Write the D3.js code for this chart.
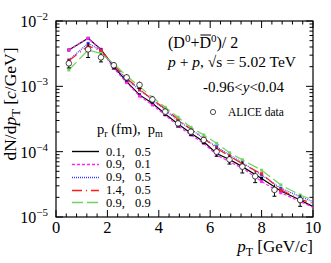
<!DOCTYPE html>
<html>
<head>
<meta charset="utf-8">
<style>
    body { margin: 0; background: #fff; }
    svg { font-family: 'Liberation Serif', 'DejaVu Serif', serif; }
</style>
</head>
<body>
<svg width="331" height="263"></svg>
<script src="https://d3js.org/d3.v7.min.js"></script>
<script>
    // ALICE data points
    let dataX = [0.5, 1.25, 1.75, 2.25, 2.75, 3.25, 3.75, 4.25, 4.75, 5.25, 5.75, 6.25, 6.75, 7.25, 7.75, 8.5, 9.5]
    let dataY = [2.25e-3, 3.68e-3, 2.78e-3, 2.1e-3, 1.37e-3, 1.05e-3, 6.3e-4, 4.1e-4, 2.71e-4, 2.02e-4, 1.51e-4, 1.0e-4, 7.6e-5, 5.9e-5, 4.2e-5, 2.6e-5, 1.82e-5]
    let dataErr = [0.15, 0.25, 0.15, 0.12, 0.12, 0.12, 0.12, 0.12, 0.12, 0.12, 0.12, 0.15, 0.15, 0.2, 0.2, 0.2, 0.2]

    // model curves
    let modelX = [0.5, 1.25, 1.75, 2.25, 2.75, 3.25, 3.75, 4.25, 4.75, 5.25, 5.75, 6.25, 6.75, 7.25, 8.0, 8.75, 9.5, 10]
    let blackY = [3.6e-3, 5.43e-3, 3.68e-3, 2.0e-3, 1.18e-3, 7.4e-4, 5.5e-4, 3.77e-4, 2.65e-4, 1.91e-4, 1.42e-4, 9.4e-5, 7.6e-5, 5.9e-5, 3.9e-5, 2.5e-5, 1.82e-5, 1.44e-5]
    let magentaY = [3.6e-3, 5.43e-3, 3.6e-3, 1.89e-3, 1.14e-3, 7.1e-4, 5.2e-4, 3.64e-4, 2.47e-4, 1.8e-4, 1.34e-4, 8.9e-5, 7.0e-5, 5.6e-5, 3.5e-5, 2.35e-5, 1.72e-5, 1.41e-5]
    let blueY = [2.53e-3, 4.55e-3, 3.51e-3, 2.05e-3, 1.28e-3, 8.8e-4, 6.2e-4, 4.34e-4, 2.98e-4, 2.2e-4, 1.6e-4, 1.19e-4, 8.9e-5, 6.8e-5, 4.4e-5, 2.75e-5, 2.05e-5, 1.72e-5]
    let redY = [2.47e-3, 4.14e-3, 3.51e-3, 2.12e-3, 1.33e-3, 9.0e-4, 6.3e-4, 4.55e-4, 3.13e-4, 2.2e-4, 1.6e-4, 1.12e-4, 8.6e-5, 6.5e-5, 4.6e-5, 2.6e-5, 1.86e-5, 1.62e-5]
    let greenY = [1.78e-3, 3.6e-3, 3.2e-3, 2.2e-3, 1.44e-3, 9.9e-4, 6.8e-4, 4.77e-4, 3.36e-4, 2.36e-4, 1.8e-4, 1.34e-4, 9.6e-5, 7.5e-5, 5.2e-5, 3.1e-5, 2.17e-5, 1.82e-5]

    let legendA = ["0.1,", "0.9,", "0.9,", "1.4,", "0.9,"]
    let legendB = ["0.5", "0.1", "0.5", "0.5", "0.9"]

    let xTicks = [0, 2, 4, 6, 8, 10]
    let yTicks = [1e-5, 1e-4, 1e-3, 1e-2]

    let models = [
        { y: blackY, color: "#000", dash: null, w: 1.2 },
        { y: magentaY, color: "#ff22ff", dash: "3,2", w: 1.2 },
        { y: blueY, color: "#3a3aff", dash: "1,1", w: 1.2 },
        { y: redY, color: "#ff1a1a", dash: "10,4,1,4", w: 1.2 },
        { y: greenY, color: "#6fd45f", dash: "11,4", w: 1.2 }
    ]

    let svg = d3.select("svg")
    let mLeft = 56, mRight = 313, mTop = 21, mBottom = 217

    let x = d3.scaleLinear().domain([0, 10]).range([mLeft, mRight])
    let y = d3.scaleLog().domain([1e-5, 1e-2]).range([mBottom, mTop])

    // ticks, all four sides pointing in
    let minorX = d3.range(0, 10.001, 0.4)
    let minorY = []
    for (let e = -5; e < -2; e++) {
        for (let m = 2; m <= 9; m++) minorY.push(m * Math.pow(10, e))
    }

    let tk = svg.append("g").attr("stroke", "#000").attr("stroke-width", 1)
    minorX.forEach(v => {
        let big = xTicks.some(t => Math.abs(t - v) < 1e-6)
        let len = big ? 7 : 3.5
        tk.append("line").attr("x1", x(v)).attr("x2", x(v)).attr("y1", mBottom).attr("y2", mBottom - len)
        tk.append("line").attr("x1", x(v)).attr("x2", x(v)).attr("y1", mTop).attr("y2", mTop + len)
    })
    yTicks.concat(minorY).forEach(v => {
        let len = yTicks.includes(v) ? 7 : 3.5
        tk.append("line").attr("y1", y(v)).attr("y2", y(v)).attr("x1", mLeft).attr("x2", mLeft + len)
        tk.append("line").attr("y1", y(v)).attr("y2", y(v)).attr("x1", mRight).attr("x2", mRight - len)
    })

    svg.append("rect")
        .attr("x", mLeft).attr("y", mTop)
        .attr("width", mRight - mLeft).attr("height", mBottom - mTop)
        .attr("fill", "none").attr("stroke", "#000").attr("stroke-width", 1.2)

    // tick labels
    svg.append("g").selectAll("text")
        .data(xTicks)
        .join("text")
        .attr("x", d => x(d))
        .attr("y", 233)
        .attr("text-anchor", "middle")
        .style("font-size", "16.5px")
        .text(d => d)

    let yl = svg.append("g").selectAll("text")
        .data(yTicks)
        .join("text")
        .attr("x", 48)
        .attr("y", d => y(d) + 6)
        .attr("text-anchor", "end")
        .style("font-size", "16px")
    yl.append("tspan").text("10")
    yl.append("tspan").attr("dy", -7).style("font-size", "11px").text(d => "\u2212" + Math.round(-Math.log10(d)))

    // axis titles
    let xt = svg.append("text").attr("x", mRight).attr("y", 252).attr("text-anchor", "end").style("font-size", "17px")
    xt.append("tspan").style("font-style", "italic").text("p")
    xt.append("tspan").attr("dy", 4).style("font-size", "12px").text("T")
    xt.append("tspan").attr("dy", -4).text(" [GeV/")
    xt.append("tspan").style("font-style", "italic").text("c")
    xt.append("tspan").text("]")

    let yt = svg.append("text")
        .attr("transform", "translate(16,104) rotate(-90)")
        .attr("text-anchor", "middle")
        .style("font-size", "17.5px")
    yt.append("tspan").text("dN/d")
    yt.append("tspan").style("font-style", "italic").text("p")
    yt.append("tspan").attr("dy", 4).style("font-size", "12.5px").text("T")
    yt.append("tspan").attr("dy", -4).text(" [")
    yt.append("tspan").style("font-style", "italic").text("c")
    yt.append("tspan").text("/GeV]")

    // model lines
    let line = d3.line().x(d => x(d[0])).y(d => y(d[1]))
    models.forEach(m => {
        let pts = modelX.map((v, i) => [v, m.y[i]])
        svg.append("path")
            .attr("d", line(pts))
            .attr("fill", "none")
            .attr("stroke", m.color)
            .attr("stroke-width", m.w)
            .attr("stroke-dasharray", m.dash)
        svg.append("g").selectAll("rect")
            .data(pts.slice(0, -1))
            .join("rect")
            .attr("x", d => x(d[0]) - 1.5)
            .attr("y", d => y(d[1]) - 1.5)
            .attr("width", 3).attr("height", 3)
            .attr("fill", m.color)
    })

    // data with error bars
    let pts = dataX.map((v, i) => ({ x: v, y: dataY[i], e: dataErr[i] }))
    let g = svg.append("g")
    g.selectAll(".err")
        .data(pts)
        .join("line")
        .attr("x1", d => x(d.x)).attr("x2", d => x(d.x))
        .attr("y1", d => y(d.y * (1 + d.e))).attr("y2", d => y(d.y * (1 - d.e)))
        .attr("stroke", "#000").attr("stroke-width", 1)
    g.selectAll(".cap")
        .data(pts)
        .join("line")
        .attr("x1", d => x(d.x) - 2).attr("x2", d => x(d.x) + 2)
        .attr("y1", d => y(d.y * (1 - d.e))).attr("y2", d => y(d.y * (1 - d.e)))
        .attr("stroke", "#000").attr("stroke-width", 1)
    g.selectAll("circle")
        .data(pts)
        .join("circle")
        .attr("cx", d => x(d.x)).attr("cy", d => y(d.y))
        .attr("r", 2.8)
        .attr("fill", "#fff").attr("stroke", "#000").attr("stroke-width", 0.7)

    // annotations
    let t1 = svg.append("text").attr("x", 168).attr("y", 48).style("font-size", "16px")
    t1.append("tspan").text("(D")
    t1.append("tspan").attr("dy", -6).style("font-size", "11px").text("0")
    t1.append("tspan").attr("dy", 6).text("+")
    t1.append("tspan").text("D")
    t1.append("tspan").attr("dy", -6).style("font-size", "11px").text("0")
    t1.append("tspan").attr("dy", 6).text(")/ 2")
    let ext = t1.node().getExtentOfChar(4)
    svg.append("line")
        .attr("x1", ext.x + 1).attr("x2", ext.x + ext.width)
        .attr("y1", ext.y + 1).attr("y2", ext.y + 1)
        .attr("stroke", "#000").attr("stroke-width", 1)

    let t2 = svg.append("text").attr("x", 168).attr("y", 67).style("font-size", "15.5px")
    t2.append("tspan").style("font-style", "italic").text("p")
    t2.append("tspan").text(" + ")
    t2.append("tspan").style("font-style", "italic").text("p")
    t2.append("tspan").text(", \u221As = 5.02 TeV")

    let t3 = svg.append("text").attr("x", 203).attr("y", 92).style("font-size", "15px")
    t3.append("tspan").text("-0.96<")
    t3.append("tspan").style("font-style", "italic").text("y")
    t3.append("tspan").text("<0.04")

    svg.append("circle").attr("cx", 213).attr("cy", 112).attr("r", 2.6)
        .attr("fill", "#fff").attr("stroke", "#000").attr("stroke-width", 0.7)
    svg.append("text").attr("x", 228).attr("y", 116).style("font-size", "11.5px").text("ALICE data")

    // legend
    let lt = svg.append("text").attr("x", 97).attr("y", 134).style("font-size", "14.5px")
    lt.append("tspan").text("p")
    lt.append("tspan").attr("dy", 3).style("font-size", "10px").text("r")
    lt.append("tspan").attr("dy", -3).text(" (fm),\u2002p")
    lt.append("tspan").attr("dy", 3).style("font-size", "10px").text("m")

    let legY = [151, 163.5, 176.5, 189.5, 202]
    models.forEach((m, i) => {
        svg.append("line")
            .attr("x1", 72).attr("x2", 99)
            .attr("y1", Math.round(legY[i]) + 0.5).attr("y2", Math.round(legY[i]) + 0.5)
            .attr("stroke", m.color).attr("stroke-width", 1.4)
            .attr("stroke-dasharray", m.dash)
        svg.append("text").attr("x", 106).attr("y", legY[i] + 4.5).style("font-size", "12.5px").text(legendA[i])
        svg.append("text").attr("x", 135).attr("y", legY[i] + 4.5).style("font-size", "12.5px").text(legendB[i])
    })
</script>
</body>
</html>
